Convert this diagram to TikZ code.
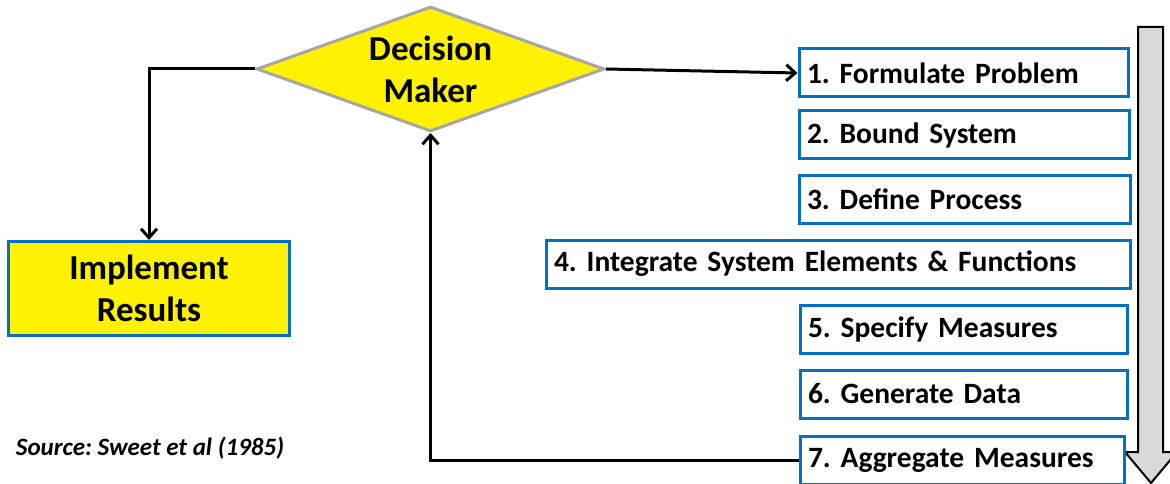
\documentclass[tikz,border=0pt]{standalone}
\usepackage{fontspec}
\setmainfont{Carlito}
\usetikzlibrary{shapes.geometric,arrows.meta}

\definecolor{stepblue}{RGB}{0,112,192}
\definecolor{edgegray}{RGB}{166,166,166}
\definecolor{flowgray}{RGB}{217,217,217}

\frenchspacing
\begin{document}
\begin{tikzpicture}[
    x=1pt, y=-1pt,
    decision/.style={diamond, aspect=2.74, draw=edgegray, fill=yellow, line width=3pt,
      minimum width=348pt, minimum height=125pt, inner sep=0pt, align=center,
      font=\fontsize{35}{42}\selectfont\bfseries},
    result/.style={rectangle, draw=stepblue, fill=yellow, line width=3pt,
      minimum width=281pt, minimum height=94pt, align=center,
      font=\fontsize{35}{42}\selectfont\bfseries},
    stepbox/.style={rectangle, draw=stepblue, fill=white, line width=3pt, anchor=north west,
      minimum width=#1, text width=#1-16pt, inner xsep=8pt, minimum height=48pt,
      align=left, font=\fontsize{29.5}{32}\selectfont\bfseries},
    link/.style={draw=black, line width=3pt, -{Straight Barb[length=9pt,width=16pt]}}
]
\useasboundingbox (0,0) rectangle (1170,484);

% flow direction of the steps
\filldraw[fill=flowgray, draw=black, line width=2pt, line join=miter]
  (1138,27) -- (1163,27) -- (1163,452) -- (1177,452) -- (1151,483)
  -- (1125,452) -- (1138,452) -- cycle;

\node[decision] (dm) at (430.5,69) {Decision\\Maker};
\node[result] (impl) at (149,288.5) {Implement\\Results};

\node[stepbox=329pt] (s1) at (797.5,47.5)  {1. Formulate Problem};
\node[stepbox=330pt] (s2) at (797.5,109.5) {2. Bound System};
\node[stepbox=331pt] (s3) at (797.5,173.5) {3. Define Process};
\node[stepbox=584pt] (s4) at (544.5,238.5) {4. Integrate System Elements \& Functions};
\node[stepbox=327pt] (s5) at (798.5,303.5) {5. Specify Measures};
\node[stepbox=327pt] (s6) at (798.5,368.5) {6. Generate Data};
\node[stepbox=324pt] (s7) at (798.5,434.5) {7. Aggregate Measures};

\node[font=\fontsize{25}{28}\selectfont\bfseries\itshape] (src) at (150,448)
  {Source: Sweet et al (1985)};

\draw[link] (dm.west) -| (impl.north);
\draw[link] (dm.east) -- (s1.west);
\draw[link] (s7.west) -| (dm.south);
\end{tikzpicture}
\end{document}
